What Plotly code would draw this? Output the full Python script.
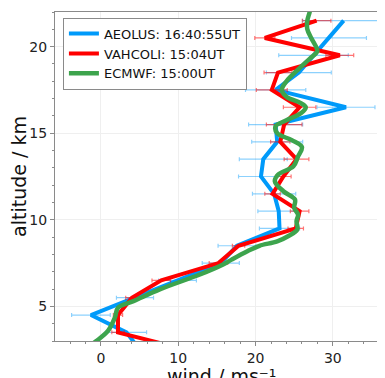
import plotly.graph_objects as go

# ---------------- data ----------------
aeolus_alt = [21.5, 20.5, 19.5, 18.5, 17.5, 16.5, 15.5, 14.5, 13.5, 12.5, 11.5, 10.5, 9.5, 8.5, 7.5, 6.5, 5.5, 4.5, 3.5, 2.5]
aeolus_wind = [31.4, 29.5, 27.5, 25.6, 22.6, 31.7, 22.6, 22.8, 21.0, 20.7, 22.4, 23.0, 23.1, 17.6, 15.5, 9.9, 4.4, -1.3, 3.3, 5.0]
aeolus_err = [5.3, 4.85, 4.5, 4.2, 3.9, 3.75, 3.5, 3.3, 3.1, 2.9, 2.8, 2.7, 2.6, 2.45, 2.4, 2.45, 2.4, 2.5, 2.6, 2.6]

vahcoli_alt = [21.5, 20.5, 19.5, 18.5, 17.5, 16.5, 15.5, 14.5, 13.5, 12.5, 11.5, 10.5, 9.5, 8.5, 7.5, 6.5, 5.5, 4.5, 3.5, 2.5]
vahcoli_wind = [27.9, 21.2, 30.9, 22.9, 22.1, 25.7, 23.7, 23.2, 25.3, 23.6, 22.2, 25.7, 25.2, 17.8, 15.2, 7.8, 4.0, 2.2, 2.2, 11.0]
vahcoli_err = [1.85, 1.3, 1.8, 1.8, 2.0, 2.1, 2.3, 1.25, 1.6, 1.0, 1.0, 1.2, 1.0, 0.8, 1.2, 1.2, 0.8, 0.6, 0.8, 1.0]

ecmwf_alt = [22.3, 22.0, 21.5, 21.0, 20.5, 20.1, 19.75, 19.3, 18.76, 18.0, 17.5, 17.1, 16.75, 16.5, 16.16, 15.75, 15.4, 15.0,
             14.6, 14.2, 13.66, 13.09, 12.6, 12.22, 11.65, 11.17, 10.69, 10.3, 9.92, 9.44, 9.05, 8.75, 8.5, 8.2, 7.7,
             7.42, 6.84, 5.98, 5.3, 4.92, 4.35, 3.58, 3.0, 2.7]
ecmwf_wind = [27.1, 27.0, 26.7, 26.7, 27.2, 27.7, 28.0, 27.0, 25.7, 24.0, 23.4, 24.0, 25.8, 26.5, 25.9, 24.0, 22.6, 22.8,
              24.7, 26.0, 25.5, 24.9, 22.9, 22.5, 23.6, 25.1, 25.0, 25.5, 25.3, 25.4, 24.2, 22.8, 20.5, 19.0, 16.9,
              15.8, 12.8, 7.6, 4.2, 2.2, 1.8, 0.9, -0.6, -1.5]

series_names = ["AEOLUS: 16:40:55UT", "VAHCOLI: 15:04UT", "ECMWF: 15:00UT"]
x_tick_vals = [0, 10, 20, 30]
y_tick_vals = [5, 10, 15, 20]
x_title = "wind / ms⁻¹"
y_title = "altitude / km"

# ---------------- figure ----------------
BLUE = "#009AFA"
RED = "#FF0000"
GREEN = "#3DA44D"

fig = go.Figure()
fig.add_trace(go.Scatter(
    x=aeolus_wind, y=aeolus_alt, mode="lines", name=series_names[0],
    line=dict(color=BLUE, width=4),
    error_x=dict(type="data", array=aeolus_err, visible=True,
                 color="rgba(0,154,250,0.45)", thickness=1.2, width=2),
))
fig.add_trace(go.Scatter(
    x=vahcoli_wind, y=vahcoli_alt, mode="lines", name=series_names[1],
    line=dict(color=RED, width=4),
    error_x=dict(type="data", array=vahcoli_err, visible=True,
                 color="rgba(255,0,0,0.55)", thickness=1.2, width=2),
))
fig.add_trace(go.Scatter(
    x=ecmwf_wind, y=ecmwf_alt, mode="lines", name=series_names[2],
    line=dict(color=GREEN, width=4.5, shape="spline", smoothing=1.0),
))

axis_common = dict(
    showline=True, linecolor="#8a8a8a", linewidth=1, mirror=True,
    ticks="outside", ticklen=4, tickcolor="#8a8a8a",
    showgrid=True, gridcolor="#efefef", gridwidth=1,
    zeroline=False,
    tickfont=dict(family="DejaVu Sans", size=14, color="#222"),
)

# The page body has an 8px default margin, so the figure is sized to fill the
# remaining 377x370 of the 385x378 window.
fig.update_layout(
    width=377, height=370,
    margin=dict(l=47, r=0, t=4, b=37),
    paper_bgcolor="white", plot_bgcolor="white",
    font=dict(family="DejaVu Sans", color="#111"),
    showlegend=True,
    legend=dict(
        x=0.024, y=0.983, xanchor="left", yanchor="top",
        bgcolor="white", bordercolor="#8a8a8a", borderwidth=1,
        font=dict(family="DejaVu Sans", size=13, color="#111"),
        itemwidth=30, tracegroupgap=0,
    ),
    xaxis=dict(
        range=[-5.95, 36.75], tickvals=x_tick_vals,
        minor=dict(dtick=2, tick0=0, ticks="outside", ticklen=2, tickcolor="#8a8a8a", showgrid=False),
        automargin=False,
        **axis_common,
    ),
    yaxis=dict(
        range=[3, 22], tickvals=y_tick_vals,
        minor=dict(dtick=1, tick0=0, ticks="outside", ticklen=2, tickcolor="#8a8a8a", showgrid=False),
        title=dict(text=y_title, font=dict(family="DejaVu Sans", size=19, color="#111"), standoff=10),
        automargin=False,
        **axis_common,
    ),
    annotations=[dict(
        text=x_title, xref="paper", yref="paper", x=0.505, y=-0.068,
        xanchor="center", yanchor="top", showarrow=False,
        font=dict(family="DejaVu Sans", size=19, color="#111"),
    )],
)

fig.write_html("out.html")
